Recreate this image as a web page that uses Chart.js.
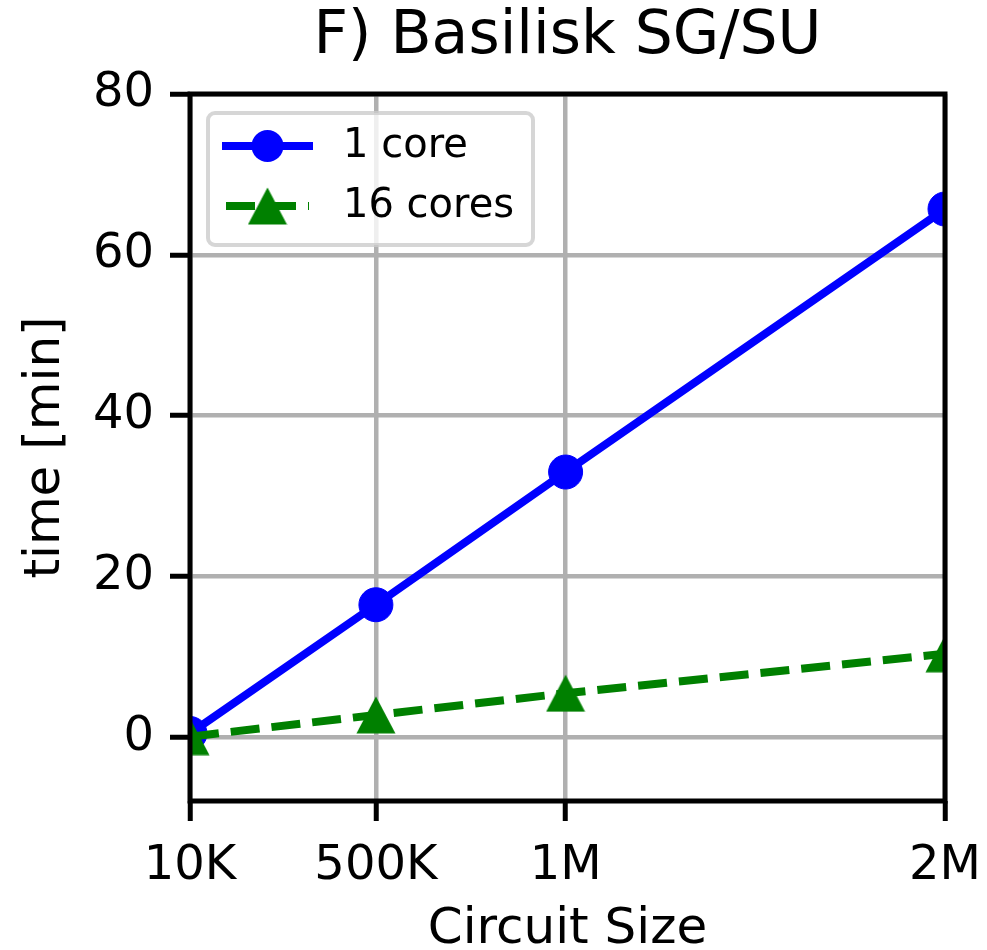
<!DOCTYPE html>
<html>
<head>
<meta charset="utf-8">
<script src="https://cdn.jsdelivr.net/npm/chart.js@4"></script>
<style>
  html, body { margin: 0; padding: 0; background: #fff; }
  canvas { display: block; }
</style>
</head>
<body>
<canvas id="myChart" width="987" height="950"></canvas>
<script>
// circuit sizes on the x axis and their tick labels
var circuitSizes = [10000, 500000, 1000000, 2000000];
var sizeLabels = ['10K', '500K', '1M', '2M'];

// runtime in minutes
var oneCore = [0.5, 16.5, 33.0, 65.7];
var sixteenCores = [0.1, 2.8, 5.5, 10.4];

var yTicks = [0, 20, 40, 60, 80];

function toPoints(values) {
  return circuitSizes.map(function (x, i) { return {x: x, y: values[i]}; });
}

// matplotlib style "^" marker (bbox centred, not circumcentred)
var triangle = document.createElement('canvas');
triangle.width = 40;
triangle.height = 38;
var tctx = triangle.getContext('2d');
tctx.fillStyle = '#008000';
tctx.beginPath();
tctx.moveTo(20, 0.5);
tctx.lineTo(39.5, 37.5);
tctx.lineTo(0.5, 37.5);
tctx.closePath();
tctx.fill();

Chart.defaults.font.family = 'DejaVu Sans';
Chart.defaults.color = '#000';

// black frame around the plot area, drawn over the lines
var frame = {
  id: 'frame',
  afterDatasetsDraw: function (chart) {
    var a = chart.chartArea, ctx = chart.ctx;
    ctx.save();
    ctx.strokeStyle = '#000';
    ctx.lineWidth = 5;
    ctx.strokeRect(a.left, a.top, a.right - a.left, a.bottom - a.top);
    ctx.restore();
  }
};

// legend with line + marker handles
var lineLegend = {
  id: 'lineLegend',
  afterDraw: function (chart) {
    var a = chart.chartArea, ctx = chart.ctx;
    var bx = a.left + 18, by = a.top + 19, bw = 325, bh = 132;
    ctx.save();
    ctx.beginPath();
    ctx.roundRect(bx, by, bw, bh, 7);
    ctx.fillStyle = 'rgba(255,255,255,0.8)';
    ctx.fill();
    ctx.lineWidth = 4;
    ctx.strokeStyle = 'rgba(204,204,204,0.8)';
    ctx.stroke();

    chart.data.datasets.forEach(function (ds, i) {
      var y = by + 33 + i * 60;
      var x0 = bx + 18, x1 = bx + 101, xm = (x0 + x1) / 2;
      ctx.beginPath();
      ctx.setLineDash(ds.borderDash || []);
      ctx.lineCap = ds.borderDash ? 'butt' : 'square';
      ctx.lineWidth = ds.borderWidth;
      ctx.strokeStyle = ds.borderColor;
      ctx.moveTo(x0, y);
      ctx.lineTo(x1, y);
      ctx.stroke();
      ctx.setLineDash([]);
      if (ds.pointStyle === 'circle') {
        ctx.beginPath();
        ctx.arc(xm, y, ds.pointRadius - 1, 0, Math.PI * 2);
        ctx.fillStyle = ds.pointBackgroundColor;
        ctx.fill();
      } else {
        ctx.drawImage(ds.pointStyle, xm - ds.pointStyle.width / 2, y - ds.pointStyle.height / 2);
      }
      ctx.fillStyle = '#000';
      ctx.font = '40px "DejaVu Sans"';
      ctx.textBaseline = 'middle';
      ctx.textAlign = 'left';
      ctx.fillText(ds.label, bx + 135, y + 1);
    });
    ctx.restore();
  }
};

var ctx = document.getElementById('myChart').getContext('2d');
var chart = new Chart(ctx, {
  type: 'line',
  data: {
    datasets: [{
      label: '1 core',
      data: toPoints(oneCore),
      borderColor: '#0000ff',
      backgroundColor: '#0000ff',
      borderWidth: 8,
      pointStyle: 'circle',
      pointRadius: 17,
      pointBackgroundColor: '#0000ff',
      pointBorderColor: '#0000ff',
      pointBorderWidth: 1,
      clip: 0,
      order: 1
    }, {
      label: '16 cores',
      data: toPoints(sixteenCores),
      borderColor: '#008000',
      backgroundColor: '#008000',
      borderWidth: 8,
      borderDash: [29, 12],
      pointStyle: triangle,
      pointRadius: 19,
      clip: 0,
      order: 0
    }]
  },
  options: {
    responsive: false,
    devicePixelRatio: 1,
    animation: false,
    events: [],
    layout: { padding: { left: 0, right: 42, top: 0, bottom: 0 } },
    plugins: {
      legend: { display: false },
      tooltip: { enabled: false },
      title: {
        display: true,
        text: 'F) Basilisk SG/SU',
        fullSize: false,
        color: '#000',
        font: { size: 60, weight: 'normal', lineHeight: 1.0 },
        padding: { top: 7, bottom: 27 }
      }
    },
    scales: {
      x: {
        type: 'linear',
        min: 10000,
        max: 2000000,
        afterBuildTicks: function (scale) {
          scale.ticks = circuitSizes.map(function (v) { return {value: v}; });
        },
        afterFit: function (scale) {
          scale.height = 149;
          scale.paddingLeft = 0;
          scale.paddingRight = 0;
        },
        ticks: {
          autoSkip: false,
          maxRotation: 0,
          padding: 17,
          font: { size: 48 },
          callback: function (v) {
            var i = circuitSizes.indexOf(v);
            return i >= 0 ? sizeLabels[i] : '';
          }
        },
        grid: {
          color: '#b0b0b0',
          lineWidth: 4.5,
          tickLength: 20,
          tickColor: '#000',
          tickWidth: 5
        },
        border: { display: false },
        title: {
          display: true,
          text: 'Circuit Size',
          font: { size: 50, lineHeight: 0.8 },
          padding: { top: 0, bottom: 0 }
        }
      },
      y: {
        min: -7.9,
        max: 80,
        afterBuildTicks: function (scale) {
          scale.ticks = yTicks.map(function (v) { return {value: v}; });
        },
        afterFit: function (scale) { scale.width = 190; },
        ticks: {
          padding: 16,
          font: { size: 48 }
        },
        grid: {
          color: '#b0b0b0',
          lineWidth: 4.5,
          tickLength: 20,
          tickColor: '#000',
          tickWidth: 5
        },
        border: { display: false },
        title: {
          display: true,
          text: 'time [min]',
          font: { size: 50, lineHeight: 1.2 },
          padding: { top: 16, bottom: 0 }
        }
      }
    }
  },
  plugins: [frame, lineLegend]
});
</script>
</body>
</html>
